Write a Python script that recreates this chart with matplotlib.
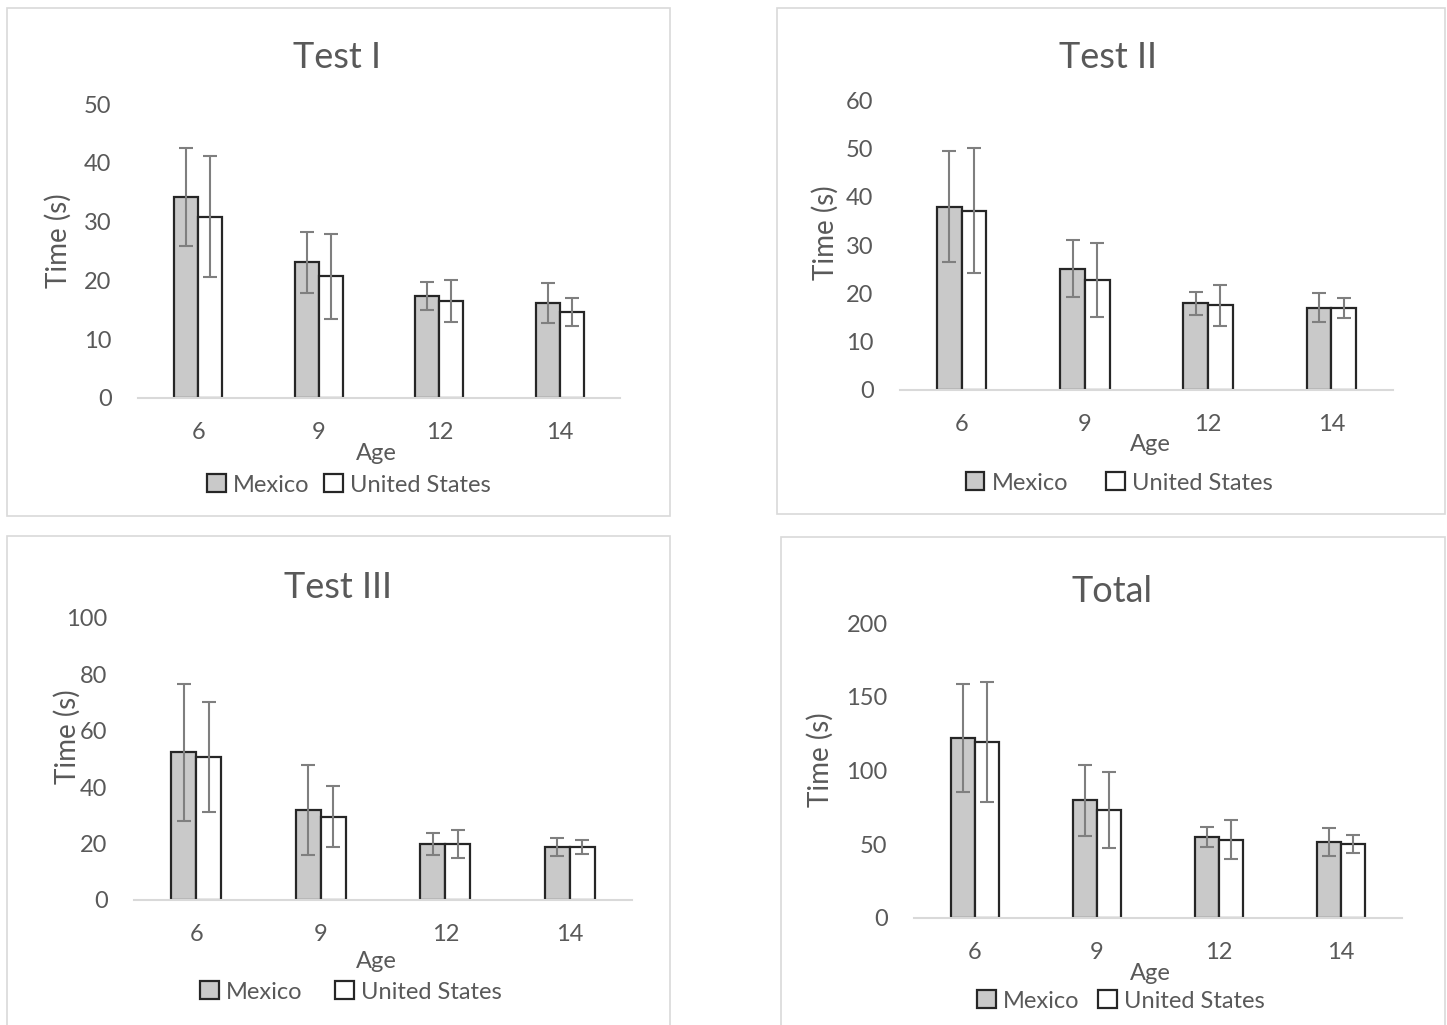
import numpy as np
import matplotlib.pyplot as plt
from matplotlib.patches import Rectangle, Patch

ages = ['6', '9', '12', '14']
series = ['Mexico', 'United States']

# Test I
t1_mex = [34.2, 23.1, 17.3, 16.2]
t1_mex_err = [8.4, 5.2, 2.4, 3.4]
t1_us = [30.8, 20.7, 16.5, 14.6]
t1_us_err = [10.3, 7.2, 3.5, 2.4]
# Test II
t2_mex = [37.9, 25.1, 17.9, 17.0]
t2_mex_err = [11.5, 5.9, 2.3, 3.0]
t2_us = [37.1, 22.8, 17.5, 17.0]
t2_us_err = [12.9, 7.6, 4.2, 2.1]
# Test III
t3_mex = [52.4, 31.9, 19.8, 18.8]
t3_mex_err = [24.3, 16.0, 3.9, 3.3]
t3_us = [50.7, 29.5, 19.8, 18.8]
t3_us_err = [19.4, 10.8, 5.0, 2.4]
# Total
tot_mex = [121.8, 79.8, 54.9, 51.5]
tot_mex_err = [36.7, 24.0, 7.1, 9.4]
tot_us = [119.1, 73.4, 53.1, 50.2]
tot_us_err = [40.6, 25.7, 13.4, 6.1]

W, H = 1447, 1025
plt.rcParams['font.family'] = ['Lato', 'DejaVu Sans']
txt = '#595959'
mex_color = '#c9c9c9'
edge = '#262626'
errc = '#7f7f7f'

fig = plt.figure(figsize=(W / 100, H / 100), dpi=100)


def fx(x):
    return x / W


def fy(y):
    return 1 - y / H


panels = [
    # title, mex, mex_err, us, us_err, ymax, step, axes box, frame box, title pos, ylabel pos, age pos, legend pos, colspacing
    ('Test I', t1_mex, t1_mex_err, t1_us, t1_us_err, 50, 10,
     (138, 620, 104, 398), (7, 670, 8, 516), (337, 58), (58, 241), (376, 453), (349, 485), 0.6),
    ('Test II', t2_mex, t2_mex_err, t2_us, t2_us_err, 60, 10,
     (900, 1393, 100, 390), (777, 1445, 8, 514), (1108, 58), (825, 233), (1150, 445), (1119, 483), 1.6),
    ('Test III', t3_mex, t3_mex_err, t3_us, t3_us_err, 100, 20,
     (134, 632, 618, 900), (7, 670, 536, 1030), (338, 588), (67, 737), (376, 962), (351, 992), 1.4),
    ('Total', tot_mex, tot_mex_err, tot_us, tot_us_err, 200, 50,
     (914, 1402, 623, 918), (781, 1445, 537, 1030), (1112, 591), (820, 760), (1150, 973), (1121, 1001), 0.8),
]

x = np.arange(len(ages))
w = 0.2

for (title, mex, mex_err, us, us_err, ymax, step, box, frame,
     tpos, ylpos, agepos, legpos, colsp) in panels:
    x0, x1, yt, yb = box
    ax = fig.add_axes([fx(x0), fy(yb), (x1 - x0) / W, (yb - yt) / H])
    ek = dict(ecolor=errc, elinewidth=1.5, capsize=5, capthick=1.5)
    ax.bar(x - w / 2, mex, w, yerr=mex_err, color=mex_color, edgecolor=edge,
           linewidth=1.6, error_kw=ek, zorder=2)
    ax.bar(x + w / 2, us, w, yerr=us_err, color='white', edgecolor=edge,
           linewidth=1.6, error_kw=ek, zorder=2)
    ax.set_xlim(-0.5, len(ages) - 0.5)
    ax.set_ylim(0, ymax)
    ax.set_yticks(np.arange(0, ymax + 1, step))
    ax.set_xticks(x)
    ax.set_xticklabels(ages)
    for s in ['top', 'right', 'left']:
        ax.spines[s].set_visible(False)
    ax.spines['bottom'].set_color('#d9d9d9')
    ax.spines['bottom'].set_linewidth(1.5)
    ax.tick_params(length=0, labelsize=17, labelcolor=txt)
    ax.tick_params(axis='y', pad=19)
    ax.tick_params(axis='x', pad=17)
    ax.patch.set_alpha(0)

    fig.text(fx(tpos[0]), fy(tpos[1]), title, fontsize=26, color=txt,
             ha='center', va='center')
    fig.text(fx(ylpos[0]), fy(ylpos[1]), 'Time (s)', fontsize=20, color=txt,
             ha='center', va='center', rotation=90)
    fig.text(fx(agepos[0]), fy(agepos[1]), 'Age', fontsize=17, color=txt,
             ha='center', va='center')
    handles = [Patch(facecolor=mex_color, edgecolor=edge, linewidth=1.6),
               Patch(facecolor='white', edgecolor=edge, linewidth=1.6)]
    fig.legend(handles, series, loc='center', ncol=2, frameon=False,
               bbox_to_anchor=(fx(legpos[0]), fy(legpos[1])), fontsize=17,
               labelcolor=txt, handlelength=0.8, handleheight=0.8,
               handletextpad=0.3, columnspacing=colsp)

    fx0, fx1, fy0, fy1 = frame
    fig.patches.append(Rectangle((fx(fx0), fy(fy1)), (fx1 - fx0) / W, (fy1 - fy0) / H,
                                 transform=fig.transFigure, fill=False,
                                 edgecolor='#d9d9d9', linewidth=1.2))

fig.savefig('out.png', dpi=100)
